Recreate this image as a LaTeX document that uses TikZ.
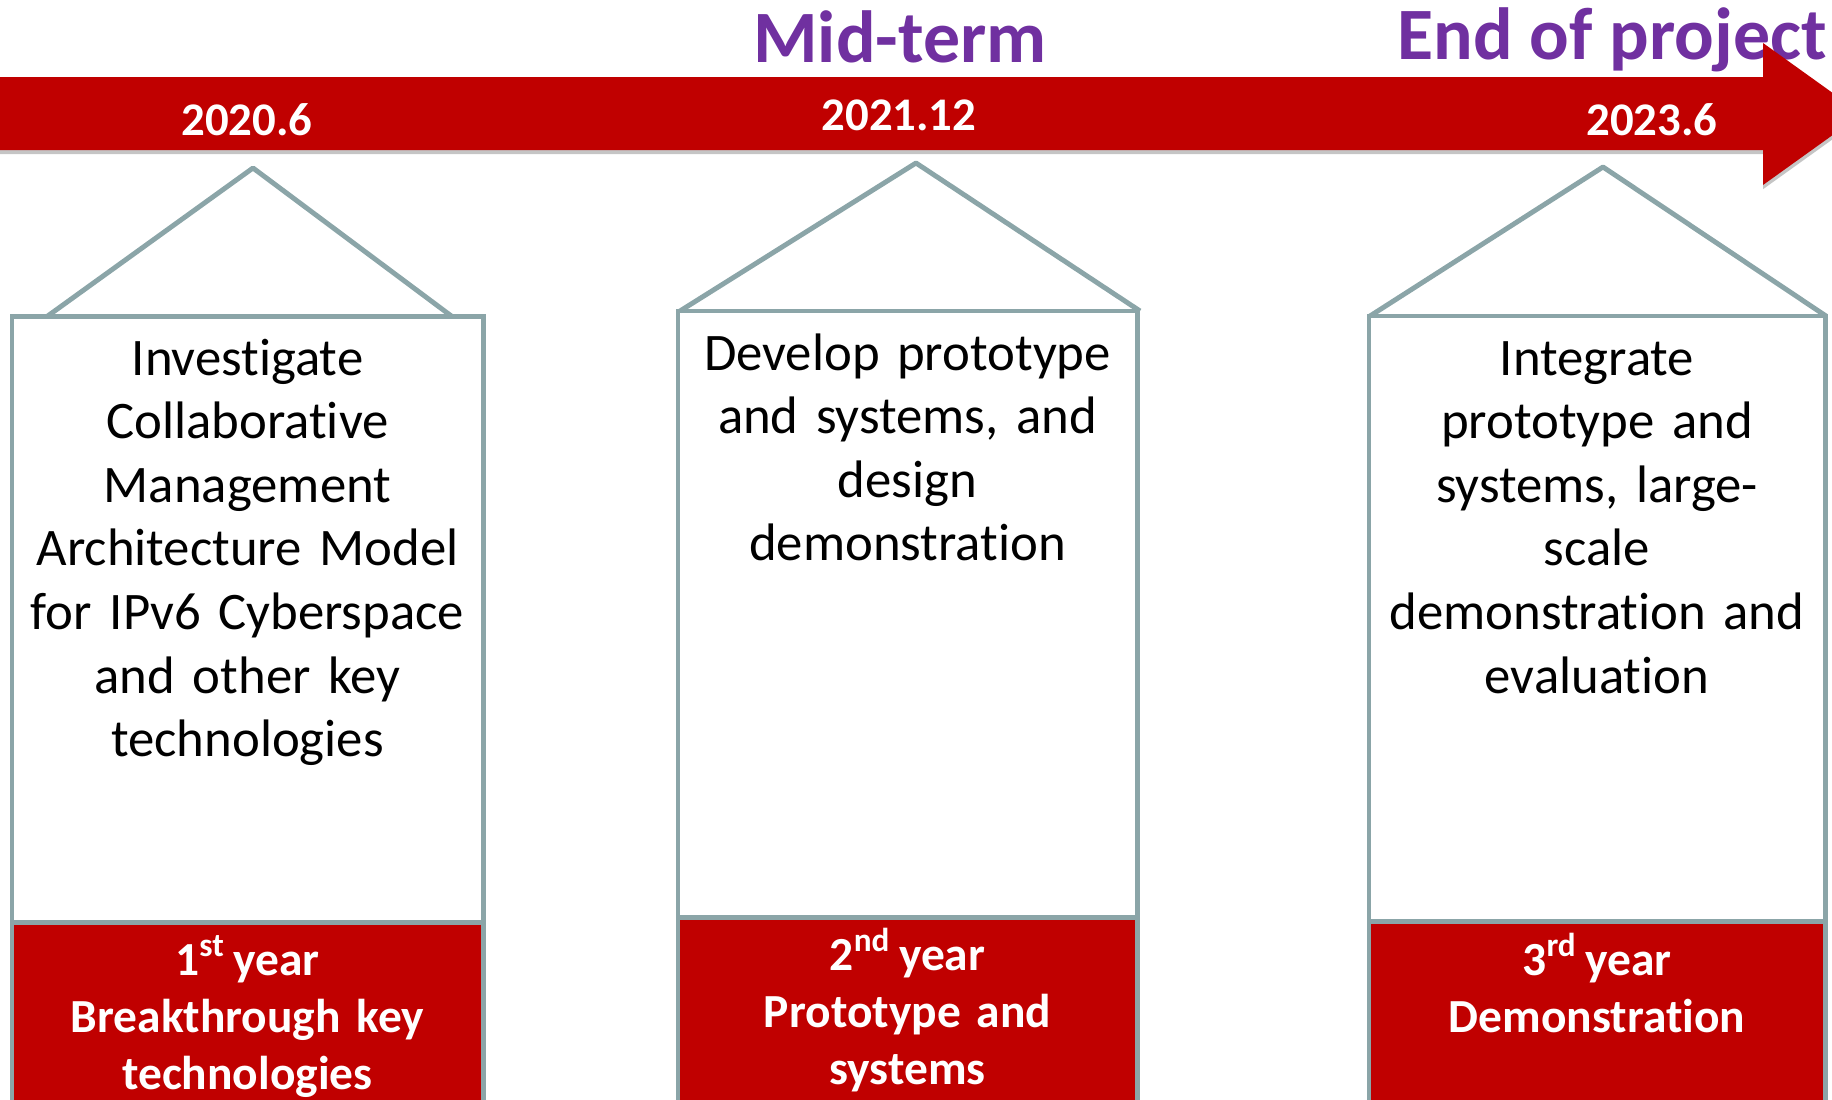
\documentclass[tikz,border=0pt]{standalone}
\usepackage{fontspec}
\setmainfont{Carlito}[Ligatures={NoCommon}]
\definecolor{barred}{HTML}{C00000}
\definecolor{stagepurple}{HTML}{7030A0}
\definecolor{pillargray}{HTML}{8BA5A8}
\begin{document}
\begin{tikzpicture}[x=0.01cm, y=-0.01cm,
  pillar/.style={draw=pillargray, line width=1.4pt},
  card/.style={pillar, fill=white, anchor=north west, inner sep=0pt, outer sep=0pt},
  yearbox/.style={pillar, fill=barred, anchor=north west, inner sep=0pt, outer sep=0pt},
  body/.style={anchor=base, align=center, text width=4.7cm, inner sep=0pt, font=\fontsize{15}{18.1}\selectfont},
  yeartext/.style={anchor=base, align=center, text width=4.7cm, inner sep=0pt, text=white, font=\fontsize{13.5}{16.3}\selectfont\bfseries},
  date/.style={anchor=base, text=white, inner sep=0pt, font=\fontsize{13.3}{16}\selectfont\bfseries},
  milestone/.style={anchor=base, text=stagepurple, inner sep=0pt, font=\fontsize{21}{25}\selectfont\bfseries}]
\useasboundingbox (0,0) rectangle (1832,1100);
\clip (0,0) rectangle (1832,1100);

% milestones
\node[milestone] (midterm) at (900,62) {Mid-term};
\node[milestone, anchor=base west] (endproj) at (1397,60) {End of project};

% time line
\fill[black!45, opacity=0.5, yshift=-1.2pt] (-10,77) -- (1763,77) -- (1763,43) -- (1862,114) -- (1763,185) -- (1763,150) -- (-10,150) -- cycle;
\fill[barred] (-10,77) -- (1763,77) -- (1763,43) -- (1862,114) -- (1763,185) -- (1763,150) -- (-10,150) -- cycle;
\node[date] (d1) at (247,135) {2020.6};
\node[date] (d2) at (899,130) {2021.12};
\node[date] (d3) at (1652,135) {2023.6};

% first year
\node[card, minimum width=4.71cm, minimum height=6.055cm] (card1) at (12,316.5) {};
\node[yearbox, minimum width=4.71cm, minimum height=2.2cm] (year1) at (card1.south west) {};
\coordinate (apex1) at (253,168);
\draw[pillar, line join=round] (47,316.5) -- (apex1) -- (452,316.5);
\node[body] (task1) at (247.5,375) {Investigate\\Collaborative\\Management\\Architecture Model\\for IPv6 Cyberspace\\and other key\\technologies};
\node[yeartext] (stage1) at (247.5,975) {1\textsuperscript{st}\,year\\Breakthrough key\\technologies};

% second year
\node[card, minimum width=4.59cm, minimum height=6.06cm] (card2) at (678,311) {};
\node[yearbox, minimum width=4.59cm, minimum height=2.2cm] (year2) at (card2.south west) {};
\coordinate (apex2) at (916,163);
\draw[pillar, line join=round] (680,311) -- (apex2) -- (1140,311);
\node[body] (task2) at (907.5,370) {Develop prototype\\and systems, and\\design\\demonstration};
\node[yeartext] (stage2) at (907.5,970) {2\textsuperscript{nd}\,year\\Prototype and\\systems};

% third year
\node[card, minimum width=4.56cm, minimum height=6.05cm] (card3) at (1369,316) {};
\node[yearbox, minimum width=4.56cm, minimum height=2.2cm] (year3) at (card3.south west) {};
\coordinate (apex3) at (1603,167);
\draw[pillar, line join=round] (1370,316) -- (apex3) -- (1826,316);
\node[body] (task3) at (1597,375) {Integrate\\prototype and\\systems, large-\\scale\\demonstration and\\evaluation};
\node[yeartext] (stage3) at (1597,975) {3\textsuperscript{rd}\,year\\Demonstration};
\end{tikzpicture}
\end{document}
